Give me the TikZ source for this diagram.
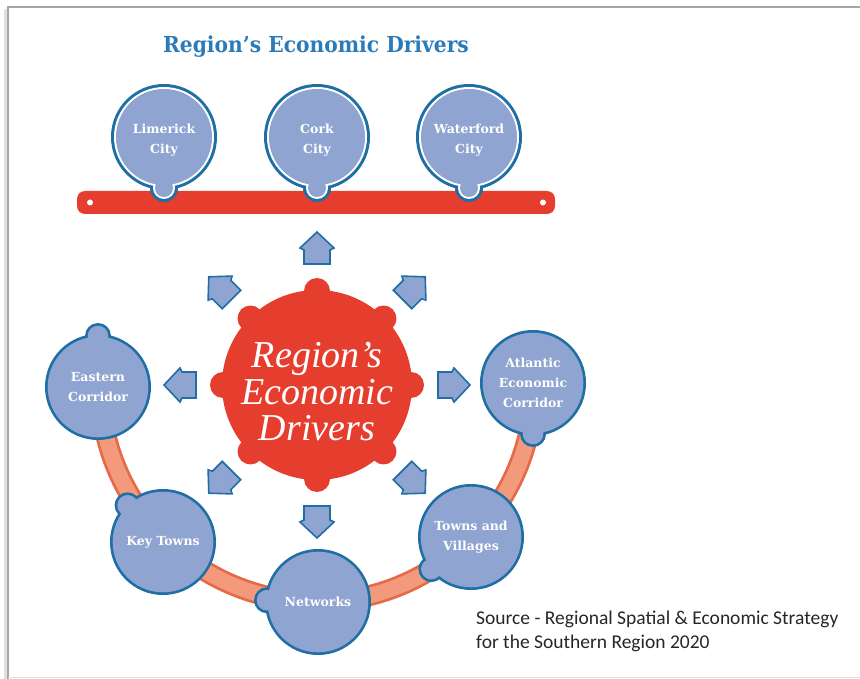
\documentclass[tikz,border=0pt]{standalone}
\usepackage{fontspec}
\newfontfamily\slab{DejaVu Serif}
\newfontfamily\srcfont{Carlito}
\newfontfamily\gearfont{Liberation Serif}
\definecolor{dblue}{HTML}{1F6FA5}
\definecolor{lblue}{HTML}{8FA4D0}
\definecolor{gred}{HTML}{E53E2F}
\definecolor{bandfill}{HTML}{F49A7C}
\definecolor{bandedge}{HTML}{E56A48}
\definecolor{ttl}{HTML}{2B7BB9}
\tikzset{
  titletext/.style={text=ttl, font=\slab\bfseries\fontsize{22}{24}\selectfont, inner sep=0},
  pintext/.style={text=white, font=\slab\bfseries\fontsize{12.5}{20}\selectfont, align=center, inner sep=0},
  geartext/.style={text=white, font=\gearfont\itshape\fontsize{38}{36.5}\selectfont, align=center, inner sep=0},
  dirarrow/.style={fill=lblue, draw=dblue, line width=1.6, line join=miter},
  srctext/.style={text=black!85, font=\srcfont\fontsize{19.5}{23.5}\selectfont, align=left, inner sep=0, anchor=north west}
}
\begin{document}
\begin{tikzpicture}[x=1pt,y=-1pt]
\useasboundingbox (0,0) rectangle (860,679);
% frame
\draw[black!12, line width=3] (5,682) -- (5,9);
\draw[black!35, line width=1.2] (8,682) -- (8,7) -- (862,7);
\draw[black!12, line width=1] (8,677) -- (862,677);

% title
\node[titletext] (title) at (316,47) {\scalebox{0.92}[1]{Region’s Economic Drivers}};

% red bar
\fill[gred, rounded corners=8] (77,191) rectangle (555,214);
\fill[white] (90,202.5) circle (3) (543,202.5) circle (3);

% top city pins
\foreach \cx/\nm/\txt in {164/lim/Limerick\\City, 317/cork/Cork\\City, 469/wat/Waterford\\City}{
  \fill[dblue] (\cx,137) circle (53) (\cx,188) circle (14);
  \fill[white] (\cx,137) circle (50) (\cx,188) circle (11);
  \fill[lblue] (\cx,137) circle (48) (\cx,188) circle (9);
  \node[pintext] (\nm) at (\cx,140) {\txt};
}

% orange band
\draw[bandedge, line width=21] (534,385) arc[start angle=0, end angle=180, radius=217];
\draw[bandfill, line width=15.5] (534,385) arc[start angle=0, end angle=180, radius=217];

% gear
\begin{scope}[shift={(317,385)}]
  \fill[gred] (0,0) circle (95);
  \foreach \a in {0,45,...,315} \fill[gred] (\a:94) circle (13);
  \foreach \a in {0,45,...,315}
    \draw[dirarrow, rotate=\a] (153,0) -- (137,-17) -- (135,-13) -- (121,-13) -- (121,13) -- (135,13) -- (137,17) -- cycle;
\end{scope}
\node[geartext] (gear) at (317,392) {Region’s\\Economic\\Drivers};

% lower pins
\foreach \cx/\cy/\ba/\nm/\txt in {
   98/387/270/east/Eastern\\Corridor,
   533/383/90/atl/Atlantic\\Economic\\Corridor,
   163/542/226/key/Key Towns,
   318/602/182/net/Networks,
   471/537/141/tow/Towns and\\Villages}{
  \begin{scope}[shift={(\cx,\cy)}]
    \fill[dblue] (0,0) circle (53) (\ba:51) circle (13);
    \fill[lblue] (0,0) circle (50.3) (\ba:51) circle (10.3);
  \end{scope}
  \node[pintext] (\nm) at (\cx,\cy) {\txt};
}

% source
\node[srctext] (src) at (476,611) {Source - Regional Spatial \& Economic Strategy\\for the Southern Region 2020};
\end{tikzpicture}
\end{document}
